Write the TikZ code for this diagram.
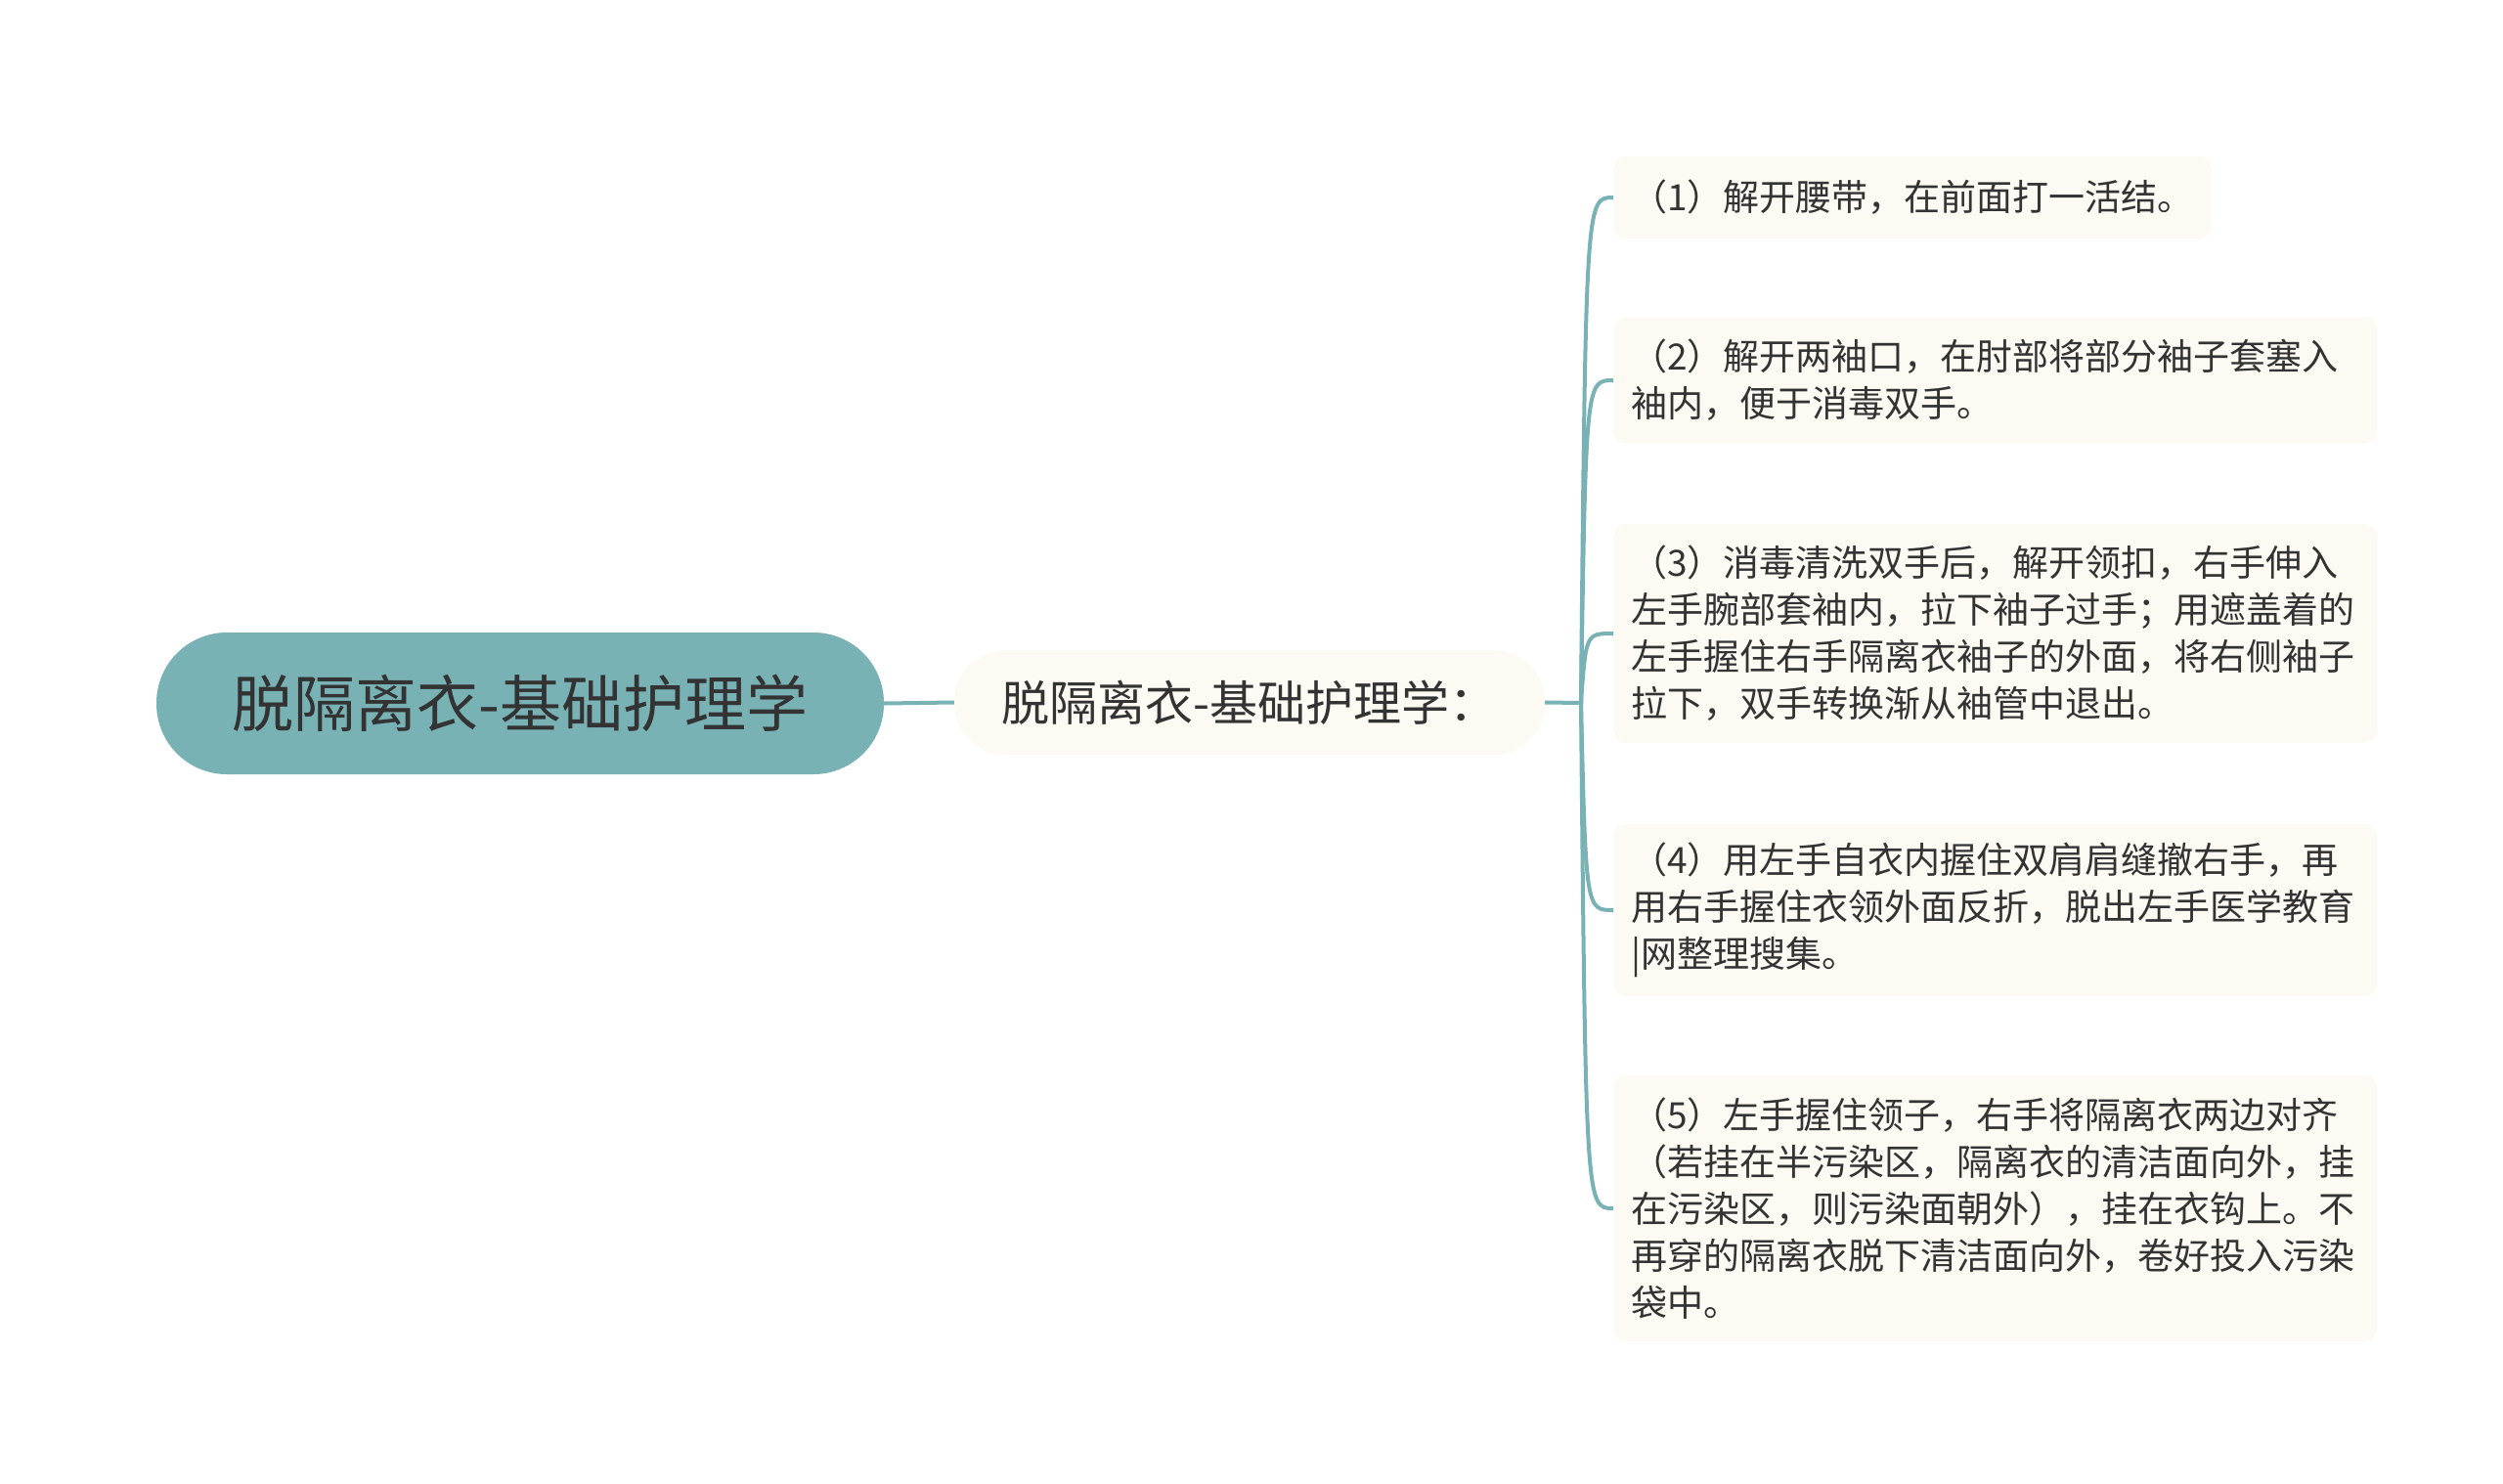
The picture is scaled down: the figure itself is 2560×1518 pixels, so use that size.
\documentclass[tikz,border=0pt]{standalone}
\usepackage{fontspec}
\setmainfont{Noto Sans CJK SC}
\definecolor{tealc}{HTML}{79B2B4}
\definecolor{creamc}{HTML}{FCFAF2}
\definecolor{txtc}{HTML}{333333}
\begin{document}
\begin{tikzpicture}[x=1pt,y=-1pt,
  conn/.style={draw=tealc, line width=4pt},
  rootbox/.style={fill=tealc, rounded corners=72pt, minimum width=744pt, minimum height=145pt, text=txtc, font=\fontsize{63}{70}\selectfont, inner sep=0pt},
  subbox/.style={fill=creamc, rounded corners=53pt, minimum width=604pt, minimum height=107pt, text=txtc, font=\fontsize{49}{56}\selectfont, inner sep=0pt},
  leafbox/.style={fill=creamc, rounded corners=13pt, text=txtc, font=\fontsize{37}{48}\selectfont, inner xsep=18pt, inner ysep=0pt, anchor=west, align=left},
  wide/.style={text width=745pt}
]
\useasboundingbox[fill=white] (0,0) rectangle (2560,1518);

\node[rootbox] (root) at (532,719.5) {脱隔离衣-基础护理学};
\node[subbox] (sub) at (1278,718.5) {脱隔离衣-基础护理学：};
\coordinate (br) at (1617,719);

\node[leafbox, minimum height=84pt] (l1) at (1650,202) {（1）解开腰带，在前面打一活结。};
\node[leafbox, wide, minimum height=129pt] (l2) at (1650,389) {（2）解开两袖口，在肘部将部分袖子套塞入\\袖内，便于消毒双手。};
\node[leafbox, wide, minimum height=224pt] (l3) at (1650,648) {（3）消毒清洗双手后，解开领扣，右手伸入\\左手腕部套袖内，拉下袖子过手；用遮盖着的\\左手握住右手隔离衣袖子的外面，将右侧袖子\\拉下，双手转换渐从袖管中退出。};
\node[leafbox, wide, minimum height=176pt] (l4) at (1650,931) {（4）用左手自衣内握住双肩肩缝撤右手，再\\用右手握住衣领外面反折，脱出左手医学教育\\|网整理搜集。};
\node[leafbox, wide, minimum height=272pt] (l5) at (1650,1236) {（5）左手握住领子，右手将隔离衣两边对齐\\（若挂在半污染区，隔离衣的清洁面向外，挂\\在污染区，则污染面朝外），挂在衣钩上。不\\再穿的隔离衣脱下清洁面向外，卷好投入污染\\袋中。};

\draw[conn] (root.east) -- (sub.west);
\draw[conn] (sub.east) -- (br);
\draw[conn] (br) .. controls (1622,202) and (1622,202) .. (l1.west);
\draw[conn] (br) .. controls (1622,389) and (1622,389) .. (l2.west);
\draw[conn] (br) .. controls (1622,648) and (1622,648) .. (l3.west);
\draw[conn] (br) .. controls (1622,931) and (1622,931) .. (l4.west);
\draw[conn] (br) .. controls (1622,1236) and (1622,1236) .. (l5.west);
\end{tikzpicture}
\end{document}
